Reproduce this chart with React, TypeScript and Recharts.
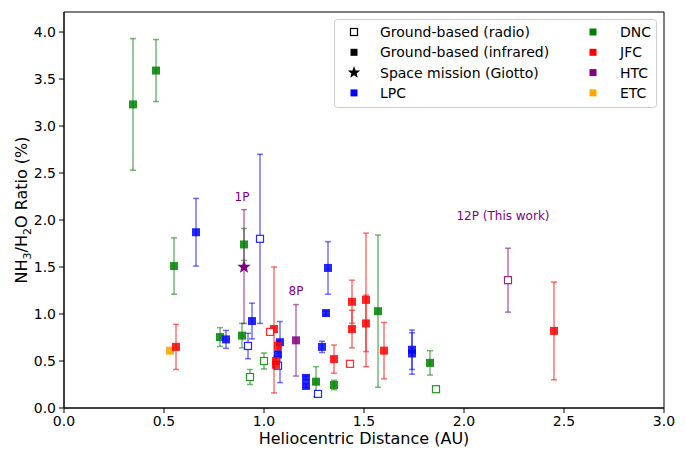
import React from "react";
import { ScatterChart, Scatter, XAxis, YAxis, ErrorBar, ReferenceArea, ReferenceDot } from "recharts";

// au = heliocentric distance, ratio = NH3/H2O (%), err = 1-sigma, src = observation type
const lpc = [
  { au: 0.66, ratio: 1.87, err: 0.36, src: "ir" },
  { au: 0.81, ratio: 0.73, err: 0.095, src: "ir" },
  { au: 0.94, ratio: 0.925, err: 0.19, src: "ir" },
  { au: 1.08, ratio: 0.7, err: [0.43, 0.22], src: "ir" },
  { au: 1.07, ratio: 0.57, err: 0.03, src: "ir" },
  { au: 1.21, ratio: 0.32, err: 0.02, src: "ir" },
  { au: 1.21, ratio: 0.235, err: 0.02, src: "ir" },
  { au: 1.29, ratio: 0.65, err: 0.06, src: "ir" },
  { au: 1.31, ratio: 1.01, err: 0.02, src: "ir" },
  { au: 1.32, ratio: 1.49, err: 0.28, src: "ir" },
  { au: 1.74, ratio: 0.62, err: 0.21, src: "ir" },
  { au: 1.74, ratio: 0.58, err: 0.22, src: "ir" },
  { au: 0.98, ratio: 1.8, err: 0.9, src: "radio" },
  { au: 0.92, ratio: 0.66, err: 0.135, src: "radio" },
  { au: 1.07, ratio: 0.45, err: 0.02, src: "radio" },
  { au: 1.27, ratio: 0.15, err: 0.02, src: "radio" },
];

const dnc = [
  { au: 0.345, ratio: 3.23, err: 0.7, src: "ir" },
  { au: 0.46, ratio: 3.59, err: 0.33, src: "ir" },
  { au: 0.55, ratio: 1.51, err: 0.3, src: "ir" },
  { au: 0.9, ratio: 1.74, err: 0.17, src: "ir" },
  { au: 0.78, ratio: 0.755, err: 0.1, src: "ir" },
  { au: 0.89, ratio: 0.77, err: 0.13, src: "ir" },
  { au: 1.26, ratio: 0.28, err: 0.16, src: "ir" },
  { au: 1.35, ratio: 0.245, err: 0.05, src: "ir" },
  { au: 1.57, ratio: 1.03, err: 0.81, src: "ir" },
  { au: 1.83, ratio: 0.48, err: 0.13, src: "ir" },
  { au: 1.0, ratio: 0.5, err: 0.085, src: "radio" },
  { au: 0.93, ratio: 0.33, err: 0.08, src: "radio" },
  { au: 1.86, ratio: 0.2, err: 0.02, src: "radio" },
];

const jfc = [
  { au: 0.56, ratio: 0.65, err: 0.24, src: "ir" },
  { au: 1.05, ratio: 0.84, err: [0.68, 0.66], src: "ir" },
  { au: 1.07, ratio: 0.66, err: 0.05, src: "ir" },
  { au: 1.06, ratio: 0.5, err: 0.05, src: "ir" },
  { au: 1.06, ratio: 0.46, err: 0.03, src: "ir" },
  { au: 1.35, ratio: 0.52, err: 0.15, src: "ir" },
  { au: 1.44, ratio: 1.13, err: 0.23, src: "ir" },
  { au: 1.44, ratio: 0.84, err: 0.2, src: "ir" },
  { au: 1.51, ratio: 1.15, err: 0.71, src: "ir" },
  { au: 1.51, ratio: 0.9, err: 0.3, src: "ir" },
  { au: 1.6, ratio: 0.61, err: 0.3, src: "ir" },
  { au: 2.45, ratio: 0.82, err: 0.52, src: "ir" },
  { au: 1.03, ratio: 0.81, err: 0.02, src: "radio" },
  { au: 1.43, ratio: 0.47, err: 0.02, src: "radio" },
];

const htc = [
  { au: 0.9, ratio: 1.5, err: [0.6, 0.61], src: "space" },
  { au: 1.16, ratio: 0.72, err: 0.38, src: "ir" },
  { au: 2.22, ratio: 1.36, err: 0.34, src: "radio" },
];

const etc = [{ au: 0.53, ratio: 0.61, err: 0.02, src: "ir" }];

const xTicks = [0, 0.5, 1, 1.5, 2, 2.5, 3];
const yTicks = [0, 0.5, 1, 1.5, 2, 2.5, 3, 3.5, 4];

const notes = [
  { au: 0.89, ratio: 2.245, text: "1P" },
  { au: 1.16, ratio: 1.245, text: "8P" },
  { au: 2.195, ratio: 2.05, text: "12P (This work)" },
];

const families = [
  { name: "DNC", color: "green", data: dnc },
  { name: "LPC", color: "blue", data: lpc },
  { name: "HTC", color: "purple", data: htc },
  { name: "ETC", color: "orange", data: etc },
  { name: "JFC", color: "red", data: jfc },
];

const font = "DejaVu Sans, sans-serif";

const starPath = (cx: number, cy: number, R: number) => {
  const r = R * 0.42;
  let d = "";
  for (let i = 0; i < 10; i++) {
    const a = -Math.PI / 2 + (i * Math.PI) / 5;
    const rad = i % 2 === 0 ? R : r;
    d += (i === 0 ? "M" : "L") + (cx + rad * Math.cos(a)).toFixed(2) + "," + (cy + rad * Math.sin(a)).toFixed(2);
  }
  return d + "Z";
};

const Marker = (props: any) => {
  const { cx, cy, payload, color } = props;
  if (cx == null || cy == null) return null;
  if (payload.src === "space") return <path d={starPath(cx, cy, 7)} fill={color} />;
  if (payload.src === "radio")
    return <rect x={cx - 3.5} y={cy - 3.5} width={7} height={7} fill="white" stroke={color} strokeWidth={1.2} strokeOpacity={0.85} />;
  return <rect x={cx - 4} y={cy - 4} width={8} height={8} fill={color} fillOpacity={0.85} />;
};

const legendLeft = [
  { label: "Ground-based (radio)", kind: "radio", color: "black" },
  { label: "Ground-based (infrared)", kind: "ir", color: "black" },
  { label: "Space mission (Giotto)", kind: "space", color: "black" },
  { label: "LPC", kind: "ir", color: "blue" },
];
const legendRight = [
  { label: "DNC", color: "green" },
  { label: "JFC", color: "red" },
  { label: "HTC", color: "purple" },
  { label: "ETC", color: "orange" },
];

const LegendBox = () => {
  const rowY = (i: number) => 13 + i * 20.3;
  return (
    <svg style={{ position: "absolute", left: 334, top: 19 }} width={323} height={89}>
      <rect x={0.5} y={0.5} width={322} height={88} rx={3} fill="white" fillOpacity={0.8} stroke="#cccccc" />
      {legendLeft.map((it, i) => {
        const cy = rowY(i);
        const cx = 20;
        return (
          <g key={it.label}>
            {it.kind === "radio" ? (
              <rect x={cx - 3.5} y={cy - 3.5} width={7} height={7} fill="white" stroke={it.color} strokeWidth={1.2} />
            ) : it.kind === "space" ? (
              <path d={starPath(cx, cy, 6.5)} fill={it.color} />
            ) : (
              <rect x={cx - 3.5} y={cy - 3.5} width={7} height={7} fill={it.color} />
            )}
            <text x={46} y={cy + 5} fontSize={14} fontFamily={font} fill="#000">
              {it.label}
            </text>
          </g>
        );
      })}
      {legendRight.map((it, i) => {
        const cy = rowY(i);
        return (
          <g key={it.label}>
            <rect x={255.5} y={cy - 3.5} width={7} height={7} fill={it.color} />
            <text x={286} y={cy + 5} fontSize={14} fontFamily={font} fill="#000">
              {it.label}
            </text>
          </g>
        );
      })}
    </svg>
  );
};

const YLabel = (props: any) => {
  const vb = props.viewBox || { x: 0, y: 12, width: 64, height: 396 };
  const x = vb.x + 27;
  const y = vb.y + vb.height / 2;
  return (
    <text transform={`translate(${x},${y}) rotate(-90)`} textAnchor="middle" fontSize={16} fontFamily={font} fill="#000">
      <tspan>NH</tspan>
      <tspan fontSize={11} dy={4}>3</tspan>
      <tspan dy={-4}>/H</tspan>
      <tspan fontSize={11} dy={4}>2</tspan>
      <tspan dy={-4}>O Ratio (%)</tspan>
    </text>
  );
};

const XLabel = (props: any) => {
  const vb = props.viewBox || { x: 64, y: 408, width: 600, height: 42 };
  return (
    <text x={vb.x + vb.width / 2} y={vb.y + 36} textAnchor="middle" fontSize={16} fontFamily={font} fill="#000">
      Heliocentric Distance (AU)
    </text>
  );
};

export default function App() {
  return (
    <div style={{ position: "relative", width: 686, height: 450, margin: "-8px 0 0 -8px", background: "white" }}>
      <ScatterChart width={686} height={450} margin={{ top: 12, right: 22, bottom: 0, left: 0 }}>
        <XAxis
          type="number"
          dataKey="au"
          domain={[0, 3]}
          ticks={xTicks}
          tickFormatter={(v: number) => v.toFixed(1)}
          height={42}
          tickSize={5}
          tickMargin={3}
          stroke="#000"
          tick={{ fontSize: 14, fontFamily: font, fill: "#000" }}
          allowDataOverflow
          label={<XLabel />}
        />
        <YAxis
          type="number"
          dataKey="ratio"
          domain={[0, 4.213]}
          ticks={yTicks}
          tickFormatter={(v: number) => v.toFixed(1)}
          width={64}
          tickSize={5}
          tickMargin={3}
          stroke="#000"
          tick={{ fontSize: 14, fontFamily: font, fill: "#000" }}
          allowDataOverflow
          label={<YLabel />}
        />
        <ReferenceArea x1={0} x2={3} y1={0} y2={4.213} fill="none" stroke="#000" strokeWidth={1} ifOverflow="visible" />
        {families.map((f) => (
          <Scatter
            key={f.name}
            name={f.name}
            data={f.data}
            isAnimationActive={false}
            shape={(p: any) => <Marker {...p} color={f.color} />}
          >
            <ErrorBar dataKey="err" direction="y" width={3} stroke={f.color} strokeOpacity={0.55} strokeWidth={1.5} />
          </Scatter>
        ))}
        {notes.map((n) => (
          <ReferenceDot
            key={n.text}
            x={n.au}
            y={n.ratio}
            r={0}
            ifOverflow="visible"
            label={{ value: n.text, position: "center", fill: "purple", fontSize: 12, fontFamily: font }}
          />
        ))}
      </ScatterChart>
      <LegendBox />
    </div>
  );
}
